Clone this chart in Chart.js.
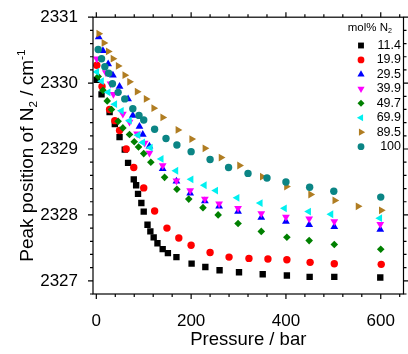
<!DOCTYPE html>
<html>
<head>
<meta charset="utf-8">
<script src="https://cdn.jsdelivr.net/npm/chart.js@4.4.0/dist/chart.umd.min.js"></script>
<style>
  html, body { margin: 0; padding: 0; background: #fff; }
  #wrap { width: 408px; height: 354px; }
</style>
</head>
<body>
<div id="wrap"><canvas id="peakChart" width="408" height="354"></canvas></div>
<script>
// mol% N2 of each mixture
const mixLabels = ['11.4', '19.9', '29.5', '39.9', '49.7', '69.9', '89.5', '100'];

// pressure (bar) / peak position (cm-1), one pair per mixture
const p114 = [1, 11, 28, 39, 49, 60, 67, 79, 84, 88, 95, 100, 108, 114, 121, 129, 140, 151, 169, 201, 230, 260, 301, 351, 402, 450, 502, 599];
const w114 = [2330.05, 2329.83, 2329.56, 2329.38, 2329.18, 2328.99, 2328.79, 2328.54, 2328.45, 2328.32, 2328.18, 2328.05, 2327.85, 2327.75, 2327.66, 2327.57, 2327.48, 2327.42, 2327.36, 2327.26, 2327.21, 2327.16, 2327.13, 2327.10, 2327.08, 2327.06, 2327.06, 2327.05];

const p199 = [1, 12, 28, 39, 49, 63, 79, 100, 123, 149, 174, 200, 240, 280, 322, 362, 402, 451, 502, 601];
const w199 = [2330.27, 2329.95, 2329.60, 2329.43, 2329.28, 2329.00, 2328.72, 2328.41, 2328.06, 2327.80, 2327.65, 2327.54, 2327.43, 2327.36, 2327.34, 2327.33, 2327.32, 2327.28, 2327.26, 2327.25];

const p295 = [5, 14, 25, 35, 49, 67, 77, 91, 98, 112, 140, 169, 198, 229, 259, 299, 348, 400, 449, 502, 599];
const w295 = [2330.70, 2330.49, 2330.29, 2330.12, 2329.95, 2329.76, 2329.51, 2329.34, 2329.22, 2329.04, 2328.70, 2328.51, 2328.33, 2328.21, 2328.13, 2328.05, 2327.96, 2327.90, 2327.85, 2327.82, 2327.78];

const p399 = [1, 20, 30, 36, 56, 70, 86, 102, 112, 140, 169, 198, 229, 259, 299, 348, 400, 449, 502, 599];
const w399 = [2330.37, 2330.16, 2329.99, 2329.83, 2329.53, 2329.41, 2329.23, 2329.09, 2328.94, 2328.75, 2328.52, 2328.37, 2328.24, 2328.17, 2328.10, 2328.02, 2327.97, 2327.94, 2327.90, 2327.86];

const p497 = [4, 14, 23, 32, 46, 56, 70, 80, 89, 100, 115, 144, 170, 195, 225, 257, 299, 348, 402, 449, 502, 600];
const w497 = [2330.10, 2329.89, 2329.73, 2329.60, 2329.42, 2329.32, 2329.22, 2329.11, 2329.03, 2328.93, 2328.80, 2328.57, 2328.39, 2328.24, 2328.11, 2328.00, 2327.87, 2327.75, 2327.66, 2327.61, 2327.55, 2327.48];

const p699 = [1, 11, 25, 39, 53, 70, 88, 98, 114, 137, 168, 200, 228, 252, 297, 346, 397, 448, 495, 598];
const w699 = [2330.17, 2330.03, 2329.86, 2329.68, 2329.58, 2329.43, 2329.21, 2329.10, 2329.02, 2328.85, 2328.67, 2328.54, 2328.45, 2328.37, 2328.26, 2328.18, 2328.10, 2328.05, 2328.01, 2327.95];

const p895 = [5, 16, 25, 35, 46, 60, 70, 86, 105, 121, 140, 172, 201, 229, 263, 302, 350, 401, 452, 503, 552, 601];
const w895 = [2330.75, 2330.61, 2330.48, 2330.37, 2330.26, 2330.12, 2330.02, 2329.87, 2329.76, 2329.62, 2329.48, 2329.29, 2329.15, 2329.01, 2328.87, 2328.75, 2328.58, 2328.43, 2328.31, 2328.22, 2328.13, 2328.07];

const p100 = [4, 11, 18, 26, 34, 46, 60, 77, 90, 100, 123, 147, 170, 200, 240, 279, 320, 360, 400, 450, 501, 600];
const w100 = [2330.51, 2330.37, 2330.25, 2330.15, 2329.99, 2329.86, 2329.76, 2329.61, 2329.51, 2329.44, 2329.30, 2329.16, 2329.06, 2328.96, 2328.84, 2328.72, 2328.63, 2328.56, 2328.50, 2328.42, 2328.36, 2328.27];

// tick labels
const xTicks = [0, 200, 400, 600];
const yTicks = [2327, 2328, 2329, 2330, 2331];

const pressures = [p114, p199, p295, p399, p497, p699, p895, p100];
const peaks = [w114, w199, w295, w399, w497, w699, w895, w100];

// marker look per series
const colors = ['#000000', '#ff0000', '#0000ff', '#ff00ff', '#008000', '#00f0f0', '#b07d22', '#0b8585'];
const shapes = ['rect', 'circle', 'triangle', 'triangle', 'rectRot', 'triangle', 'triangle', 'circle'];
const turns = [0, 0, 0, 180, 0, 270, 90, 0];
const sizes = [4.5, 3.7, 4.5, 4.5, 3.8, 4.5, 4.5, 3.7];

const FONT = '"Liberation Sans", Arial, sans-serif';

const datasets = mixLabels.map((lab, i) => ({
    label: lab,
    data: pressures[i].map((p, k) => ({ x: p, y: peaks[i][k] })),
    backgroundColor: colors[i],
    borderWidth: 0,
    pointStyle: shapes[i],
    rotation: turns[i],
    pointRadius: sizes[i],
    pointHoverRadius: sizes[i],
    order: -i
}));

// text with sub/superscript pieces, drawn along the baseline
function drawRich(ctx, parts, size, x, y, align) {
    const widths = parts.map(pt => {
        ctx.font = (pt.s ? size * 0.62 : size) + 'px ' + FONT;
        return ctx.measureText(pt.t).width;
    });
    const total = widths.reduce((a, b) => a + b, 0);
    let cx = align === 'center' ? x - total / 2 : (align === 'right' ? x - total : x);
    parts.forEach((pt, i) => {
        ctx.font = (pt.s ? size * 0.62 : size) + 'px ' + FONT;
        let dy = 0;
        if (pt.s === 'sub') dy = size * 0.3;
        if (pt.s === 'sup') dy = -size * 0.35;
        ctx.fillText(pt.t, cx, y + dy);
        cx += widths[i];
    });
}

const framePlugin = {
    id: 'frame',
    afterDatasetsDraw(chart) {
        const { ctx, chartArea: a, scales: { x, y } } = chart;
        ctx.save();
        ctx.strokeStyle = '#000';
        ctx.lineWidth = 1.2;
        ctx.strokeRect(a.left, a.top, a.right - a.left, a.bottom - a.top);
        ctx.beginPath();
        for (let k = 0; k <= 16; k++) {
            const v = k * 40;
            const px = x.getPixelForValue(v);
            if (px < a.left || px > a.right) continue;
            const len = v % 200 === 0 ? 5 : 3;
            ctx.moveTo(px, a.bottom); ctx.lineTo(px, a.bottom + len);
            ctx.moveTo(px, a.top); ctx.lineTo(px, a.top - len);
        }
        for (let k = 0; k <= 21; k++) {
            const v = 2326.8 + k * 0.2;
            const py = y.getPixelForValue(v);
            if (py < a.top - 0.5 || py > a.bottom + 0.5) continue;
            const len = Math.abs(v - Math.round(v)) < 1e-6 ? 5 : 3;
            ctx.moveTo(a.left, py); ctx.lineTo(a.left - len, py);
            ctx.moveTo(a.right, py); ctx.lineTo(a.right + len, py);
        }
        ctx.stroke();

        // axis titles
        ctx.fillStyle = '#000';
        ctx.textBaseline = 'middle';
        drawRich(ctx, [{ t: 'Pressure / bar' }], 18.5, (a.left + a.right) / 2, 340, 'center');
        ctx.save();
        ctx.translate(28, (a.top + a.bottom) / 2);
        ctx.rotate(-Math.PI / 2);
        drawRich(ctx, [{ t: 'Peak position of N' }, { t: '2', s: 'sub' }, { t: ' / cm' }, { t: '-1', s: 'sup' }], 19, 0, 0, 'center');
        ctx.restore();

        // legend
        drawRich(ctx, [{ t: 'mol% N' }, { t: '2', s: 'sub' }], 11.5, 392, 28, 'right');
        chart.data.datasets.forEach((ds, i) => {
            const ry = 45.5 + i * 14.45;
            ctx.fillStyle = ds.backgroundColor;
            Chart.helpers.drawPoint(ctx, {
                pointStyle: ds.pointStyle, rotation: ds.rotation,
                radius: ds.pointRadius * 0.92, borderWidth: 0
            }, 361, ry);
            ctx.fillStyle = '#000';
            ctx.font = '12.5px ' + FONT;
            ctx.textAlign = 'right';
            ctx.fillText(ds.label, 401, ry);
            ctx.textAlign = 'left';
        });
        ctx.restore();
    }
};

new Chart(document.getElementById('peakChart'), {
    type: 'scatter',
    data: { datasets: datasets },
    options: {
        responsive: false,
        animation: false,
        layout: { padding: { left: 0, right: 2.5, top: 13.5, bottom: 0 } },
        plugins: { legend: { display: false }, tooltip: { enabled: false } },
        scales: {
            x: {
                type: 'linear',
                min: -7, max: 648,
                grid: { display: false },
                border: { display: false },
                afterBuildTicks: s => { s.ticks = xTicks.map(v => ({ value: v })); },
                afterFit: s => { s.height = 60; },
                ticks: {
                    color: '#000', padding: 9,
                    font: { family: FONT, size: 17 },
                    maxRotation: 0,
                    callback: v => String(v)
                }
            },
            y: {
                min: 2326.8, max: 2331,
                grid: { display: false },
                border: { display: false },
                afterBuildTicks: s => { s.ticks = yTicks.map(v => ({ value: v })); },
                afterFit: s => { s.width = 93; },
                ticks: {
                    color: '#000', padding: 7,
                    font: { family: FONT, size: 17 },
                    callback: v => String(v)
                }
            }
        }
    },
    plugins: [framePlugin]
});
</script>
</body>
</html>
